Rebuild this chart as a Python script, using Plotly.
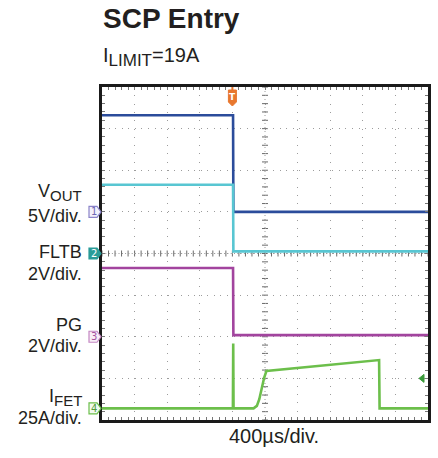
import plotly.graph_objects as go

# ---------------- data (read from the scope shot) ----------------
# time in microseconds, trigger at 0, 400 us/div, 10 divisions
t_range = [-1600, 2400]
t_div = 400

t_vout = [-1600, 8, 12, 2400]
vout = [11.6, 11.6, 0.0, 0.0]          # volts

t_fltb = [-1600, 8, 12, 2400]
fltb = [3.3, 3.3, 0.1, 0.1]            # volts

t_pg = [-1600, 8, 12, 2400]
pg = [3.3, 3.3, 0.08, 0.08]            # volts

t_ifet = [-1600, 6, 10, 14, 260, 300, 330, 360, 390, 418, 1800, 1806, 2400]
ifet = [0, 0, 39, 0, 0, 1.5, 5.5, 13, 18.5, 22.5, 29, 0, 0]   # amps

ifet_trig_level = 18                   # amps

# channel settings: (name, units per div, ground position in divisions from centre)
ch_names = ["VOUT", "FLTB", "PG", "IFET"]
ch_scale = [5, 2, 2, 25]
ch_ground = [1.0, 0.0, -2.0, -3.72]
ch_colors = ["#2b4c9b", "#58c6d2", "#a2449e", "#6cbf4b"]

# ---------------- layout constants ----------------
W, H = 438, 458
L, R, T, B = 102, 7, 87, 38
PW, PH = W - L - R, H - T - B


def px(x):
    return (x - L) / PW


def py(y):
    return (H - B - y) / PH


fig = go.Figure()

series = [(t_ifet, ifet, 3), (t_pg, pg, 2), (t_fltb, fltb, 1), (t_vout, vout, 0)]
for tt, vv, ci in series:
    fig.add_trace(go.Scatter(
        x=tt, y=vv, mode="lines", yaxis="y%d" % (ci + 2),
        line=dict(color=ch_colors[ci], width=2.6),
        hoverinfo="skip", showlegend=False))

grid_col = "#9c9c9c"
layout_axes = {}
for ci in range(4):
    lo = (-4 - ch_ground[ci]) * ch_scale[ci]
    hi = (4 - ch_ground[ci]) * ch_scale[ci]
    layout_axes["yaxis%d" % (ci + 2)] = dict(
        range=[lo, hi], overlaying="y", visible=False, fixedrange=True)

fig.update_layout(
    width=W, height=H,
    margin=dict(l=L, r=R, t=T, b=B, pad=0),
    paper_bgcolor="white", plot_bgcolor="white",
    showlegend=False,
    xaxis=dict(
        range=t_range, dtick=t_div, tick0=t_range[0],
        showticklabels=False, showgrid=True, gridcolor=grid_col, gridwidth=1,
        griddash="1px,7.3px", zeroline=False,
        showline=True, linewidth=3, linecolor="#1a1a1a", mirror="ticks",
        ticks="inside", ticklen=3, tickcolor="#777", tickwidth=1,
        minor=dict(dtick=t_div / 5, tick0=t_range[0], ticks="inside", ticklen=3,
                   tickcolor="#777", showgrid=False),
    ),
    yaxis=dict(
        range=[-4, 4], dtick=1, tick0=-4,
        showticklabels=False, showgrid=True, gridcolor=grid_col, gridwidth=1,
        griddash="1px,5.58px", zeroline=False,
        showline=True, linewidth=3, linecolor="#1a1a1a", mirror="ticks",
        ticks="inside", ticklen=3, tickcolor="#777", tickwidth=1,
        minor=dict(dtick=0.2, tick0=-4, ticks="inside", ticklen=3,
                   tickcolor="#777", showgrid=False),
    ),
    **layout_axes,
)

shapes = []
# centre cross tick marks
cx = (t_range[0] + t_range[1]) / 2
n = 0
while n <= 50:
    tv = t_range[0] + n * t_div / 5
    shapes.append(dict(type="line", xref="x", yref="y", ysizemode="pixel", yanchor=0,
                       x0=tv, x1=tv, y0=-3, y1=3, line=dict(color="#6a6a6a", width=1),
                       layer="below"))
    n += 1
n = 0
while n <= 40:
    dv = -4 + n * 0.2
    shapes.append(dict(type="line", xref="x", yref="y", xsizemode="pixel", xanchor=cx,
                       x0=-3, x1=3, y0=dv, y1=dv, line=dict(color="#6a6a6a", width=1),
                       layer="below"))
    n += 1
shapes.append(dict(type="line", xref="x", yref="paper", x0=cx, x1=cx, y0=0, y1=1,
                   line=dict(color="#9a9a9a", width=1, dash="1px,3px"), layer="below"))
shapes.append(dict(type="line", xref="paper", yref="y", x0=0, x1=1, y0=0, y1=0,
                   line=dict(color="#9a9a9a", width=1, dash="1px,2.3px"), layer="below"))

# channel ground markers on left edge (placed at each channel's ground level)
mk_line = ["#8b84c9", "#2a9c98", "#c486c2", "#6cbf4b"]
mk_fill = ["#f3f1fb", "#2a9c98", "#f8eef7", "#f2faf0"]
mk_text = ["#6f67b3", "white", "#a4509f", "#4f9c3a"]
annotations = []
for ci in range(4):
    gy = (ch_ground[ci] + 4) / 8
    shapes.append(dict(type="path", xref="paper", yref="paper", xsizemode="pixel",
                       ysizemode="pixel", xanchor=0, yanchor=gy,
                       path="M -13,-5.5 L -5,-5.5 L -1,0 L -5,5.5 L -13,5.5 Z",
                       fillcolor=mk_fill[ci], line=dict(color=mk_line[ci], width=1.2),
                       layer="above"))
    annotations.append(dict(x=0, y=gy, xref="paper", yref="paper", xshift=-8,
                            xanchor="center", yanchor="middle",
                            text=str(ci + 1), showarrow=False,
                            font=dict(family="DejaVu Sans", size=10,
                                      color=mk_text[ci])))

# trigger marker at top
shapes.append(dict(type="path", xref="x", yref="paper", xsizemode="pixel", ysizemode="pixel",
                   xanchor=0, yanchor=1,
                   path="M -4,-3 L 4,-3 L 4,-15 L 0,-19 L -4,-15 Z",
                   fillcolor="#e8772e", line=dict(color="#e8772e", width=1)))
shapes.append(dict(type="line", xref="x", yref="paper", xsizemode="pixel", ysizemode="pixel",
                   xanchor=0, yanchor=1, x0=0, x1=0, y0=0, y1=-3,
                   line=dict(color="#e8772e", width=2)))
annotations.append(dict(x=0, y=1, xref="x", yref="paper", yshift=-10,
                        xanchor="center", yanchor="middle", text="<b>T</b>",
                        showarrow=False,
                        font=dict(family="DejaVu Sans", size=9, color="white")))

# IFET trigger level arrow on right edge
shapes.append(dict(type="path", xref="x", yref="y5", xsizemode="pixel", ysizemode="pixel",
                   xanchor=t_range[1], yanchor=ifet_trig_level,
                   path="M -9,0 L -4,4 L -4,-4 Z",
                   fillcolor="#3a9a3a", line=dict(color="#3a9a3a", width=1)))

txt_col = "#231f20"
fam = "Liberation Sans"


def lab(text, x, y, size, xanchor="right"):
    annotations.append(dict(x=px(x), y=py(y), xref="paper", yref="paper", text=text,
                            xanchor=xanchor, yanchor="middle", showarrow=False,
                            font=dict(family=fam, size=size, color=txt_col)))


def sub(s, size):
    return "<sub><span style='font-size:%dpx'>%s</span></sub>" % (size, s)


lab("<b>SCP Entry</b>", 101, 19, 28, "left")
lab("I" + sub("LIMIT", 17) + "<span style='font-size:20px'>=19A</span>", 101, 57, 20, "left")
lab("V" + sub("OUT", 15), 84, 192, 18)
lab("5V/div.", 84, 216, 18)
lab("FLTB", 84, 252, 18)
lab("2V/div.", 84, 274, 18)
lab("PG", 84, 325, 18)
lab("2V/div.", 84, 346, 18)
lab("I" + sub("FET", 15), 84, 397, 18)
lab("25A/div.", 84, 418, 18)
lab("400µs/div.", 276, 436, 20, "center")

fig.update_layout(shapes=shapes, annotations=annotations)
fig.write_html("out.html", post_script="document.body.style.margin='0px';",
               config={"displayModeBar": False})
